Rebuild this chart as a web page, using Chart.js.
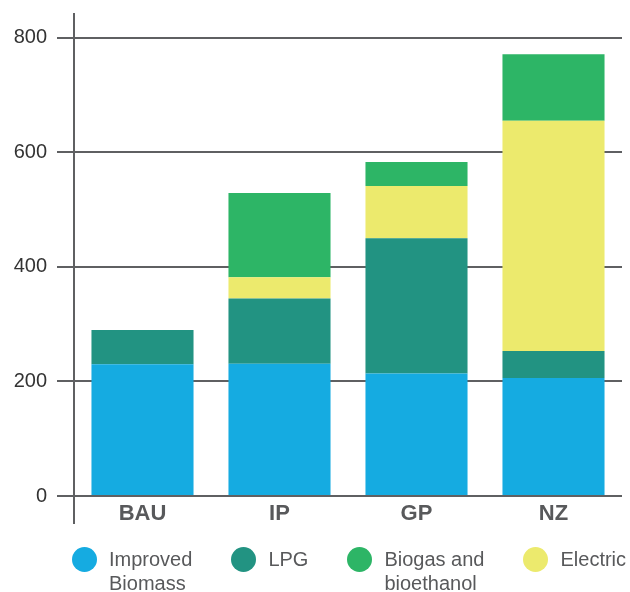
<!DOCTYPE html>
<html>
<head>
<meta charset="utf-8">
<script src="https://cdn.jsdelivr.net/npm/chart.js@4/dist/chart.umd.min.js"></script>
<style>
  html, body { margin: 0; padding: 0; background: #fff; }
  #wrap { width: 630px; height: 592px; position: relative; overflow: hidden; }
  #legend {
    position: absolute; left: 72px; top: 547px;
    display: flex; flex-direction: row; align-items: flex-start; gap: 39px;
    font-family: "Liberation Sans", Arial, sans-serif; font-size: 20px; line-height: 24px;
    color: #58595b;
  }
  .item { display: flex; flex-direction: row; align-items: flex-start; }
  .dot { width: 25px; height: 25px; border-radius: 50%; margin-top: 0px; margin-right: 12px; flex: none; }
  .txt { white-space: nowrap; }
</style>
</head>
<body>
<div id="wrap"><canvas id="c"></canvas><div id="legend"></div></div>
<script>
const categories = ['BAU', 'IP', 'GP', 'NZ'];
const improvedBiomass = [230, 231, 214, 206];
const lpg = [60, 114, 236, 47];
const electric = [0, 37, 91, 402];
const biogas = [0, 147, 42, 116];
const yTicks = [0, 200, 400, 600, 800];
const legendOrder = ['Improved Biomass', 'LPG', 'Biogas and bioethanol', 'Electric'];
const legendLines = {
  'Improved Biomass': ['Improved', 'Biomass'],
  'LPG': ['LPG'],
  'Biogas and bioethanol': ['Biogas and', 'bioethanol'],
  'Electric': ['Electric']
};

const colors = {
  'Improved Biomass': '#15ABE1',
  'LPG': '#229382',
  'Biogas and bioethanol': '#2DB566',
  'Electric': '#ECEA6D'
};

function ds(label, data) {
  return {
    label, data,
    backgroundColor: colors[label],
    borderWidth: 0,
    barPercentage: 0.745,
    categoryPercentage: 1.0
  };
}

Chart.defaults.font.family = '"Liberation Sans", Arial, sans-serif';

const chart = new Chart(document.getElementById('c'), {
  type: 'bar',
  data: {
    labels: categories,
    datasets: [
      ds('Improved Biomass', improvedBiomass),
      ds('LPG', lpg),
      ds('Electric', electric),
      ds('Biogas and bioethanol', biogas)
    ]
  },
  options: {
    responsive: true,
    maintainAspectRatio: false,
    animation: false,
    layout: { padding: { top: 14, right: 8, left: 0, bottom: 66 } },
    plugins: {
      tooltip: { enabled: false },
      legend: { display: false }
    },
    scales: {
      x: {
        stacked: true,
        grid: { display: false, drawTicks: false },
        border: { display: false },
        afterFit: (s) => { s.height = 3; s.paddingLeft = 0; s.paddingRight = 0; },
        ticks: {
          color: '#58595b',
          font: { size: 22, weight: 'bold' },
          mirror: true,
          padding: -4
        }
      },
      y: {
        stacked: true,
        min: -47.1,
        max: 841.4,
        afterFit: (s) => { s.width = 74; s.paddingTop = 0; s.paddingBottom = 0; },
        afterBuildTicks: (s) => { s.ticks = yTicks.map(v => ({ value: v })); },
        border: { display: true, color: '#5f6062', width: 2 },
        grid: { color: '#5f6062', lineWidth: 2, tickLength: 17, drawOnChartArea: true },
        ticks: {
          color: '#333',
          font: { size: 20 },
          padding: 10
        }
      }
    }
  }
});

// HTML legend built from the chart's datasets, in the reference's order
const legendEl = document.getElementById('legend');
legendOrder.forEach(name => {
  const d = chart.data.datasets.find(x => x.label === name);
  const item = document.createElement('div');
  item.className = 'item';
  const dot = document.createElement('span');
  dot.className = 'dot';
  dot.style.background = d.backgroundColor;
  const txt = document.createElement('span');
  txt.className = 'txt';
  txt.innerHTML = legendLines[name].join('<br>');
  item.appendChild(dot);
  item.appendChild(txt);
  legendEl.appendChild(item);
});
</script>
</body>
</html>
